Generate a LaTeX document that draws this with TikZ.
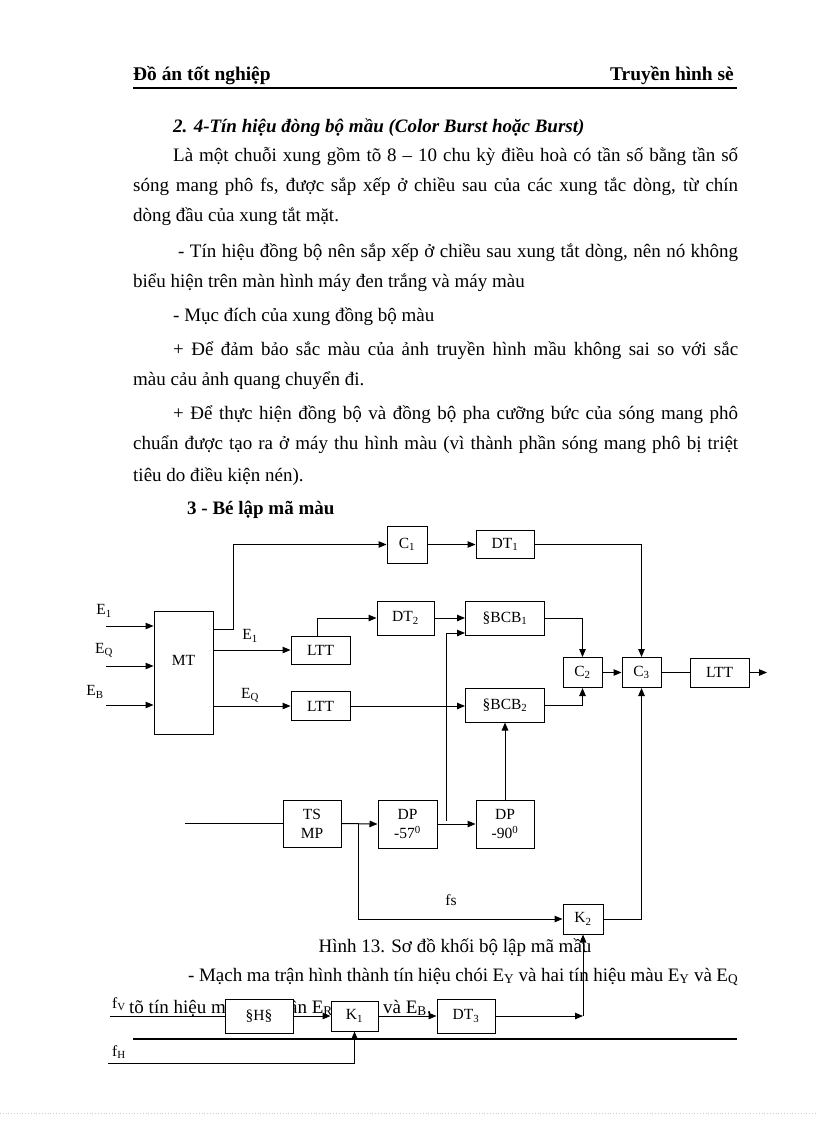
\documentclass[tikz,border=0pt]{standalone}
\usepackage{fontspec}
\setmainfont{Liberation Serif}
\usepackage{tikz}
\usetikzlibrary{positioning,calc}
\usetikzlibrary{arrows.meta}
\newcommand{\dgfont}{\fontsize{15.5}{17}\selectfont}
\newcommand{\bodyfont}{\fontsize{19}{22}\selectfont}
\newcommand{\headfont}{\fontsize{19.4}{22}\selectfont\bfseries}
\newcommand{\lo}[1]{\textsubscript{#1}}
\tikzstyle{blk}=[draw, line width=1pt, fill=white, inner sep=0pt, align=center, font=\dgfont]
\tikzstyle{arr}=[line width=1pt, -{Triangle[length=8pt,width=6.5pt]}]
\tikzstyle{ln} =[line width=1pt]
\tikzstyle{txt}=[inner sep=0pt, anchor=base west, font=\bodyfont]
\tikzstyle{lbl}=[inner sep=0pt, font=\dgfont]

\begin{document}
\begin{tikzpicture}[x=1pt, y=-1pt]
      \useasboundingbox (0,0) rectangle (816,1123);
      % header
      \node[txt, font=\headfont] (hdl) at (133,81) {Đồ án tốt nghiệp};
      \node[txt, font=\headfont, anchor=base east] (hdr) at (734,81) {Truyền hình sè};
      \draw[line width=1.2pt] (133,88) -- (737,88);
      % text
      \node[txt, font=\bodyfont\bfseries\itshape] (title) at (173,133) {2. 4-Tín hiệu đòng bộ mầu (Color Burst hoặc Burst)};
      \node[txt] (p1a) at (173,162) {\makebox[565pt][s]{Là một chuỗi xung gồm tõ 8 – 10 chu kỳ điều hoà có tần số bằng tần số}};
      \node[txt] (p1b) at (133,192) {\makebox[605pt][s]{sóng mang phô fs, được sắp xếp ở chiều sau của các xung tắc dòng, từ chín}};
      \node[txt] (p1c) at (133,222) {dòng đầu của xung tắt mặt.};
      \node[txt] (p2a) at (178,257) {\makebox[560pt][s]{- Tín hiệu đồng bộ nên sắp xếp ở chiều sau xung tắt dòng, nên nó không}};
      \node[txt] (p2b) at (133,287) {biểu hiện trên màn hình máy đen trắng và máy màu};
      \node[txt] (p3)  at (173,321) {- Mục đích của xung đồng bộ màu};
      \node[txt] (p4a) at (173,355) {\makebox[565pt][s]{+ Để đảm bảo sắc màu của ảnh truyền hình mầu không sai so với sắc}};
      \node[txt] (p4b) at (133,385) {màu cảu ảnh quang chuyển đi.};
      \node[txt] (p5a) at (173,419) {\makebox[565pt][s]{+ Để thực hiện đồng bộ và đồng bộ pha cưỡng bức của sóng mang phô}};
      \node[txt] (p5b) at (133,449) {\makebox[605pt][s]{chuẩn được tạo ra ở máy thu hình màu (vì thành phần sóng mang phô bị triệt}};
      \node[txt] (p5c) at (133,481) {tiêu do điều kiện nén).};
      \node[txt, font=\bodyfont\bfseries] (sec3) at (187,514) {3 - Bé lập mã màu};
      \node[txt, anchor=base] (cap) at (455,952) {Hình 13. Sơ đồ khối bộ lập mã mầu};
      \node[txt] (p6a) at (188,981) {\makebox[550pt][s]{- Mạch ma trận hình thành tín hiệu chói E\lo{Y} và hai tín hiệu màu E\lo{Y} và E\lo{Q}}};
      \node[txt] (p6b) at (129,1013) {tõ tín hiệu m};
      \node[txt, anchor=base east] (p6c) at (333,1013) {ần E\lo{R}};
      \node[txt] (p6d) at (383,1013) {và E\lo{B}.};
      % blocks
      \node[blk, minimum width=59pt, minimum height=123pt] (MT) at (183.5,672.5) {};
      \node[lbl] (MTl) at (183.5,660) {MT};
      \node[blk, minimum width=40pt, minimum height=37pt] (C1) at (407,544.5) {C\lo{1}};
      \node[blk, minimum width=58pt, minimum height=28pt] (DT1) at (505,544.5) {DT\lo{1}};
      \node[blk, minimum width=59pt, minimum height=28pt] (LTT1) at (320.5,650) {LTT};
      \node[blk, minimum width=59pt, minimum height=29pt] (LTT2) at (320.5,706) {LTT};
      \node[blk, minimum width=57pt, minimum height=34pt] (DT2) at (405.5,618) {DT\lo{2}};
      \node[blk, minimum width=79pt, minimum height=34pt] (BCB1) at (505,618) {§BCB\lo{1}};
      \node[blk, minimum width=79pt, minimum height=34pt] (BCB2) at (505,705) {§BCB\lo{2}};
      \node[blk, minimum width=39pt, minimum height=30pt] (C2) at (582.5,672.5) {C\lo{2}};
      \node[blk, minimum width=39pt, minimum height=30pt] (C3) at (641.5,672.5) {C\lo{3}};
      \node[blk, minimum width=59pt, minimum height=29pt] (LTT3) at (719.5,672.5) {LTT};
      \node[blk, minimum width=58pt, minimum height=47pt] (TSMP) at (312,823.5) {TS\\[2pt]MP};
      \node[blk, minimum width=59pt, minimum height=48pt] (DP57) at (407.5,824) {DP\\[2pt]-57\textsuperscript{0}};
      \node[blk, minimum width=58pt, minimum height=48pt] (DP90) at (505,824) {DP\\[2pt]-90\textsuperscript{0}};
      \node[blk, minimum width=40pt, minimum height=30pt] (K2) at (583,919) {K\lo{2}};
      \node[blk, minimum width=68pt, minimum height=34pt] (HS) at (259,1016) {§H§};
      \node[blk, minimum width=47pt, minimum height=30pt] (K1) at (354.5,1016) {K\lo{1}};
      \node[blk, minimum width=58pt, minimum height=34pt] (DT3) at (466,1016) {DT\lo{3}};
      % labels
      \node[lbl] (lE1) at (104,611) {E\lo{1}};
      \node[lbl] (lEQ) at (104,650) {E\lo{Q}};
      \node[lbl] (lEB) at (95,692) {E\lo{B}};
      \node[lbl] (oE1) at (250,636) {E\lo{1}};
      \node[lbl] (oEQ) at (250,695) {E\lo{Q}};
      \node[lbl] (lfs) at (451,900) {fs};
      \node[lbl, anchor=base west] (lfV) at (112,1008) {f\lo{V}};
      \node[lbl, anchor=base west] (lfH) at (112,1056) {f\lo{H}};
      % free ends
      \coordinate (inE1) at (106,626);
      \coordinate (inEQ) at (106,666);
      \coordinate (inEB) at (106,705);
      \coordinate (inTS) at (185,823.5);
      \coordinate (tap) at (446,821);
      \coordinate (out) at (767,672.5);
      \coordinate (fV) at (110,1016);
      \coordinate (fH) at (108,1063);
      \coordinate (k2in) at (583,1016);
      % connectors
      \draw[arr] (inE1) -- (inE1 -| MT.west);
      \draw[arr] (inEQ) -- (inEQ -| MT.west);
      \draw[arr] (inEB) -- (inEB -| MT.west);
      \draw[arr] ([yshift=-19pt]MT.north east) -- ++(20,0) |- (C1.west);
      \draw[arr] (C1.east) -- (DT1.west);
      \draw[arr] (MT.east |- LTT1.west) -- (LTT1.west);
      \draw[arr] (MT.east |- LTT2.west) -- (LTT2.west);
      \draw[arr] ([xshift=-3.5pt]LTT1.north) |- (DT2.west);
      \draw[arr] (DT2.east) -- (BCB1.west);
      \draw[arr] (LTT2.east) -- (LTT2.east -| BCB2.west);
      \draw[arr] (tap) |- ([yshift=-15pt]BCB1.west);
      \draw[arr] (BCB1.east) -| (C2.north);
      \draw[arr] (BCB2.east) -| (C2.south);
      \draw[arr] (C2.east) -- (C3.west);
      \draw[ln]  (C3.east) -- (LTT3.west);
      \draw[arr] (LTT3.east) -- (out);
      \draw[arr] (DT1.east) -| (C3.north);
      \draw[arr] (K2.east) -| (C3.south);
      \draw[ln]  (inTS) -- (TSMP.west);
      \draw[arr] (TSMP.east) -- (DP57.west);
      \draw[arr] ([xshift=17pt]TSMP.east) |- (K2.west);
      \draw[arr] (DP57.east) -- (DP90.west);
      \draw[arr] (DP90.north) -- (BCB2.south);
      \draw[ln]  (fV) -- (HS.west);
      \draw[arr] (HS.east) -- (K1.west);
      \draw[arr] (K1.east) -- (DT3.west);
      \draw[arr] (DT3.east) -- (k2in);
      \draw[arr] (k2in) -- (K2.south);
      \draw[arr] (fH) -| (K1.south);
      % footer
      \draw[line width=1.2pt] (133,1039) -- (737,1039);
      \draw[gray!40, dotted, line width=0.8pt] (0,1113) -- (816,1113);
    \end{tikzpicture}
\end{document}
